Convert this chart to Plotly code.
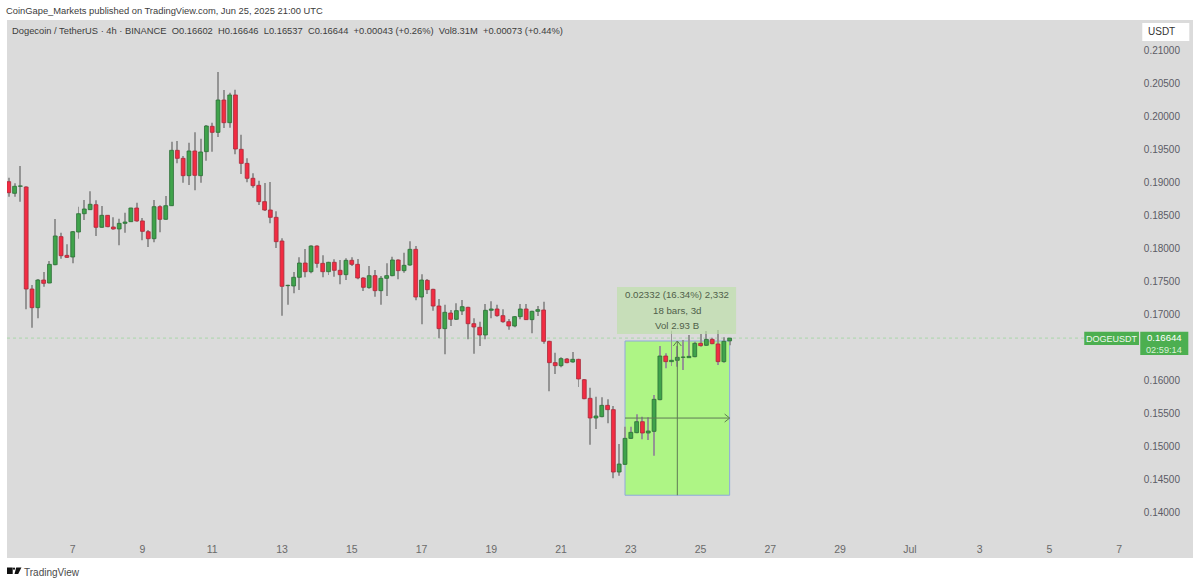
import pandas as pd
import plotly.graph_objects as go

# 4h bars, values
opens = [0.19009, 0.18833, 0.18939, 0.18929, 0.17386, 0.17104, 0.17522, 0.17477, 0.17754, 0.18178,
         0.17895, 0.17870, 0.18248, 0.18525, 0.18586, 0.18661, 0.18319, 0.18500, 0.18324, 0.18294,
         0.18379, 0.18404, 0.18611, 0.18415, 0.18253, 0.18147, 0.18631, 0.18440, 0.18646, 0.19483,
         0.19362, 0.19100, 0.19473, 0.19100, 0.19463, 0.19846, 0.19755, 0.20244, 0.19901, 0.20320,
         0.19498, 0.19286, 0.19060, 0.18954, 0.18707, 0.18581, 0.18470, 0.18112, 0.17437, 0.17432,
         0.17563, 0.17779, 0.17648, 0.18036, 0.17774, 0.17648, 0.17790, 0.17669, 0.17603, 0.17820,
         0.17759, 0.17553, 0.17407, 0.17588, 0.17361, 0.17548, 0.17588, 0.17825, 0.17664, 0.17749,
         0.17986, 0.17265, 0.17517, 0.17381, 0.17129, 0.16787, 0.17023, 0.16928, 0.17054, 0.17109,
         0.16862, 0.16807, 0.16691, 0.17064, 0.17084, 0.16983, 0.16892, 0.16827, 0.16968, 0.17084,
         0.16923, 0.17049, 0.17069, 0.16595, 0.16273, 0.16227, 0.16328, 0.16283, 0.16323, 0.16015,
         0.15733, 0.15436, 0.15456, 0.15627, 0.15562, 0.14619, 0.14735, 0.15128, 0.15214, 0.15380,
         0.15209, 0.15234, 0.15713, 0.16373, 0.16288, 0.16308, 0.16353, 0.16348, 0.16363, 0.16565,
         0.16535, 0.16625, 0.16555, 0.16288, 0.16602]
highs = [0.19070, 0.18984, 0.19246, 0.18939, 0.17447, 0.17538, 0.17643, 0.17810, 0.18445, 0.18238,
         0.18062, 0.18263, 0.18631, 0.18732, 0.18863, 0.18727, 0.18641, 0.18505, 0.18470, 0.18450,
         0.18540, 0.18616, 0.18692, 0.18460, 0.18278, 0.18732, 0.18651, 0.18792, 0.19614, 0.19624,
         0.19397, 0.19599, 0.19755, 0.19659, 0.19866, 0.19901, 0.20667, 0.20395, 0.20355, 0.20400,
         0.19720, 0.19362, 0.19135, 0.19024, 0.18989, 0.19004, 0.18561, 0.18152, 0.17452, 0.17643,
         0.17865, 0.17991, 0.18047, 0.18047, 0.17895, 0.17800, 0.17835, 0.17825, 0.17850, 0.17865,
         0.17840, 0.17563, 0.17734, 0.17674, 0.17583, 0.17774, 0.17875, 0.17835, 0.17936, 0.18107,
         0.18036, 0.17608, 0.17538, 0.17391, 0.17235, 0.17149, 0.17069, 0.17170, 0.17220, 0.17119,
         0.16943, 0.16892, 0.17160, 0.17200, 0.17149, 0.17079, 0.16933, 0.16978, 0.17160, 0.17160,
         0.17059, 0.17129, 0.17195, 0.16605, 0.16424, 0.16353, 0.16343, 0.16434, 0.16333, 0.16025,
         0.15895, 0.15758, 0.15748, 0.15718, 0.15617, 0.15043, 0.15305, 0.15305, 0.15491, 0.15456,
         0.15446, 0.15784, 0.16525, 0.16414, 0.16756, 0.16525, 0.16615, 0.16691, 0.16590, 0.16706,
         0.16751, 0.16650, 0.16766, 0.16655, 0.16646]
lows = [0.18782, 0.18782, 0.18707, 0.17079, 0.16802, 0.16943, 0.17422, 0.17472, 0.17744, 0.17845,
        0.17855, 0.17774, 0.18147, 0.18430, 0.18581, 0.18188, 0.18314, 0.18319, 0.18283, 0.18047,
        0.18238, 0.18399, 0.18404, 0.18122, 0.18021, 0.18092, 0.18243, 0.18435, 0.18641, 0.19286,
        0.18994, 0.18959, 0.18878, 0.18994, 0.19327, 0.19463, 0.19685, 0.19821, 0.19826, 0.19423,
        0.19125, 0.18999, 0.18918, 0.18656, 0.18566, 0.18379, 0.18006, 0.16983, 0.17149, 0.17321,
        0.17371, 0.17563, 0.17623, 0.17709, 0.17563, 0.17598, 0.17573, 0.17457, 0.17522, 0.17734,
        0.17533, 0.17356, 0.17391, 0.17270, 0.17149, 0.17280, 0.17578, 0.17533, 0.17633, 0.17739,
        0.17215, 0.16852, 0.17311, 0.17059, 0.16640, 0.16399, 0.16827, 0.16918, 0.16993, 0.16625,
        0.16409, 0.16525, 0.16625, 0.16943, 0.16968, 0.16877, 0.16771, 0.16807, 0.16928, 0.16918,
        0.16716, 0.16978, 0.16560, 0.15839, 0.16101, 0.16202, 0.16262, 0.16273, 0.15905, 0.15718,
        0.15033, 0.15270, 0.15446, 0.15355, 0.14524, 0.14564, 0.14725, 0.15118, 0.15204, 0.15113,
        0.15103, 0.14866, 0.15703, 0.16187, 0.16222, 0.16212, 0.16162, 0.16348, 0.16353, 0.16514,
        0.16524, 0.16550, 0.16237, 0.16273, 0.16537]
closes = [0.18843, 0.18939, 0.18945, 0.17386, 0.17104, 0.17522, 0.17472, 0.17759, 0.18188, 0.17890,
          0.17865, 0.18253, 0.18525, 0.18596, 0.18667, 0.18319, 0.18500, 0.18329, 0.18294, 0.18379,
          0.18399, 0.18611, 0.18415, 0.18258, 0.18147, 0.18631, 0.18440, 0.18646, 0.19483, 0.19362,
          0.19100, 0.19473, 0.19105, 0.19458, 0.19851, 0.19755, 0.20244, 0.19901, 0.20320, 0.19503,
          0.19286, 0.19060, 0.18949, 0.18707, 0.18581, 0.18470, 0.18102, 0.17427, 0.17442, 0.17563,
          0.17779, 0.17648, 0.18036, 0.17774, 0.17648, 0.17790, 0.17669, 0.17603, 0.17820, 0.17759,
          0.17553, 0.17412, 0.17588, 0.17361, 0.17548, 0.17588, 0.17825, 0.17664, 0.17744, 0.17986,
          0.17265, 0.17522, 0.17376, 0.17129, 0.16787, 0.17034, 0.16928, 0.17059, 0.17119, 0.16862,
          0.16812, 0.16691, 0.17064, 0.17084, 0.16983, 0.16892, 0.16827, 0.16968, 0.17084, 0.16923,
          0.17049, 0.17074, 0.16595, 0.16273, 0.16227, 0.16333, 0.16273, 0.16323, 0.16026, 0.15728,
          0.15436, 0.15466, 0.15627, 0.15562, 0.14619, 0.14740, 0.15128, 0.15219, 0.15380, 0.15209,
          0.15239, 0.15718, 0.16373, 0.16288, 0.16308, 0.16353, 0.16358, 0.16368, 0.16565, 0.16530,
          0.16625, 0.16560, 0.16288, 0.16595, 0.16644]

# 0.165 sits behind the DOGEUSDT price label, so it is left out
price_ticks = [0.14, 0.145, 0.15, 0.155, 0.16, 0.17, 0.175, 0.18, 0.185, 0.19, 0.195, 0.20, 0.205, 0.21]
day_ticks = ["2025-06-07", "2025-06-09", "2025-06-11", "2025-06-13", "2025-06-15", "2025-06-17", "2025-06-19",
             "2025-06-21", "2025-06-23", "2025-06-25", "2025-06-27", "2025-06-29", "2025-07-01", "2025-07-03",
             "2025-07-05", "2025-07-07"]
day_labels = ["7", "9", "11", "13", "15", "17", "19", "21", "23", "25", "27", "29", "Jul", "3", "5", "7"]

last_price = 0.16644
measure_low = 0.14268
measure_high = 0.16600
measure_mid = 0.15435

times = pd.date_range("2025-06-05 04:00", periods=len(opens), freq="4h")

UP = "#3fa34b"
DOWN = "#f22c42"
UP_EDGE = "#2b6f36"
DOWN_EDGE = "#a82a3a"
CROSS = "#5f7a55"
BAR_MS = 4 * 3600 * 1000
W, H = 1200, 584
L, R, T, B = 7.3, 1192.7, 20, 558
FONT = "Liberation Sans, Arimo, sans-serif"


def px(x):
    return (x - L) / (R - L)


def py(y):
    return (B - y) / (B - T)


fig = go.Figure()

# wicks
fig.add_trace(go.Bar(
    x=times, y=[h - l for h, l in zip(highs, lows)], base=lows,
    width=BAR_MS * 0.17, marker=dict(color="#949494", line=dict(width=0)),
))
# bodies
is_up = [c >= o for o, c in zip(opens, closes)]
fig.add_trace(go.Bar(
    x=times, y=[abs(c - o) for o, c in zip(opens, closes)], base=[min(o, c) for o, c in zip(opens, closes)],
    width=BAR_MS * 0.66,
    marker=dict(
        color=[UP if u else DOWN for u in is_up],
        line=dict(color=[UP_EDGE if u else DOWN_EDGE for u in is_up], width=0.8),
    ),
))

# measure tool crosshair
fig.add_trace(go.Scatter(
    x=[times[106], times[124]], y=[measure_mid, measure_mid], mode="lines",
    line=dict(color=CROSS, width=1),
))
fig.add_trace(go.Scatter(
    x=[times[115], times[115]], y=[measure_low, measure_high], mode="lines",
    line=dict(color=CROSS, width=1),
))

shapes = [
    # measure area
    dict(type="rect", layer="below", xref="x", yref="y", x0=times[106], x1=times[124],
         y0=measure_low, y1=measure_high, fillcolor="#aef585", line=dict(color="#8fa8dc", width=1)),
    # arrow heads of the crosshair
    dict(type="path", xref="x", yref="y", xsizemode="pixel", ysizemode="pixel",
         xanchor=times[124], yanchor=measure_mid, path="M -5 -4 L 0 0 L -5 4", line=dict(color=CROSS, width=1)),
    dict(type="path", xref="x", yref="y", xsizemode="pixel", ysizemode="pixel",
         xanchor=times[115], yanchor=measure_high, path="M -4 -5 L 0 0 L 4 -5", line=dict(color=CROSS, width=1)),
    # last price line
    dict(type="line", layer="below", xref="paper", yref="y", x0=0, x1=px(1084), y0=last_price, y1=last_price,
         line=dict(color="#a9d6a9", width=1, dash="dot")),
    # info box
    dict(type="rect", xref="paper", yref="paper", x0=px(617), x1=px(736), y0=py(334), y1=py(287),
         fillcolor="rgba(188,222,168,0.68)", line=dict(width=0)),
    # price labels
    dict(type="rect", xref="paper", yref="paper", x0=px(1084), x1=px(1138.7), y0=py(345), y1=py(331.7),
         fillcolor="#4caf50", line=dict(width=0)),
    dict(type="rect", xref="paper", yref="paper", x0=px(1140), x1=px(1188), y0=py(355), y1=py(331.7),
         fillcolor="#4caf50", line=dict(width=0)),
    # currency button
    dict(type="rect", xref="paper", yref="paper", x0=px(1142), x1=px(1189), y0=py(41), y1=py(23),
         fillcolor="white", line=dict(width=0)),
    # TradingView logo
    dict(type="rect", xref="paper", yref="paper", x0=px(7.3), x1=px(13), y0=py(574), y1=py(567.5),
         fillcolor="#111111", line=dict(width=0)),
    dict(type="circle", xref="paper", yref="paper", x0=px(13.2), x1=px(15.4), y0=py(569.8), y1=py(567.5),
         fillcolor="#111111", line=dict(width=0)),
    dict(type="path", xref="paper", yref="paper",
         path=f"M {px(16.5)} {py(567.5)} L {px(21.7)} {py(567.5)} L {px(18.5)} {py(574)} L {px(14.8)} {py(574)} Z",
         fillcolor="#111111", line=dict(width=0)),
]


def label(x, y, text, size=10, color="#3c3c3c", anchor="left"):
    return dict(xref="paper", yref="paper", x=px(x), y=py(y), text=text, showarrow=False,
                xanchor=anchor, yanchor="middle", borderpad=0, borderwidth=0,
                font=dict(family=FONT, size=size, color=color))


annotations = [
    label(6.5, 11, "CoinGape_Markets published on TradingView.com, Jun 25, 2025 21:00 UTC", 9.35),
    label(12, 31, "Dogecoin / TetherUS · 4h · BINANCE  O0.16602  H0.16646  L0.16537  C0.16644  "
                  "+0.00043 (+0.26%)  Vol8.31M  +0.00073 (+0.44%)", 9.35),
    label(676.7, 295, "0.02332 (16.34%) 2,332", 9.7, "#50604a", "center"),
    label(676.7, 310, "18 bars, 3d", 9.7, "#50604a", "center"),
    label(676.7, 325, "Vol 2.93 B", 9.7, "#50604a", "center"),
    label(1111.4, 338.5, "DOGEUSDT", 9, "#eef8ee", "center"),
    label(1164, 337.5, "0.16644", 9.6, "#ffffff", "center"),
    label(1164, 349.5, "02:59:14", 9.2, "#d8efd8", "center"),
    label(1148, 32, "USDT", 10, "#333333"),
    label(24.5, 572, "TradingView", 10, "#4a4a4a"),
]

fig.update_layout(
    width=W, height=H,
    margin=dict(l=L, r=W - R, t=T, b=H - B, pad=0),
    paper_bgcolor="white", plot_bgcolor="#dbdbdb",
    barmode="overlay",
    xaxis=dict(
        type="date", range=["2025-06-05 02:48", "2025-07-09 02:48"],
        tickmode="array", tickvals=day_ticks, ticktext=day_labels, ticklabelposition="inside",
        showgrid=False, zeroline=False, showline=False, ticks="",
        tickfont=dict(family=FONT, size=10.5, color="#6a6a6a"),
    ),
    yaxis=dict(
        side="right", range=[0.13319, 0.214536], tickmode="array", tickvals=price_ticks,
        ticktext=[f"{p:.5f}" for p in price_ticks], ticklabelposition="inside", ticklabelstandoff=10,
        showgrid=False, zeroline=False, showline=False, ticks="",
        tickfont=dict(family=FONT, size=10, color="#5c5c66"),
    ),
    shapes=shapes, annotations=annotations, showlegend=False, hovermode=False,
)

# the page's default body margin would shift the chart by 8px
fig.write_html("out.html", post_script="document.body.style.margin='0';",
               config={"displayModeBar": False})
